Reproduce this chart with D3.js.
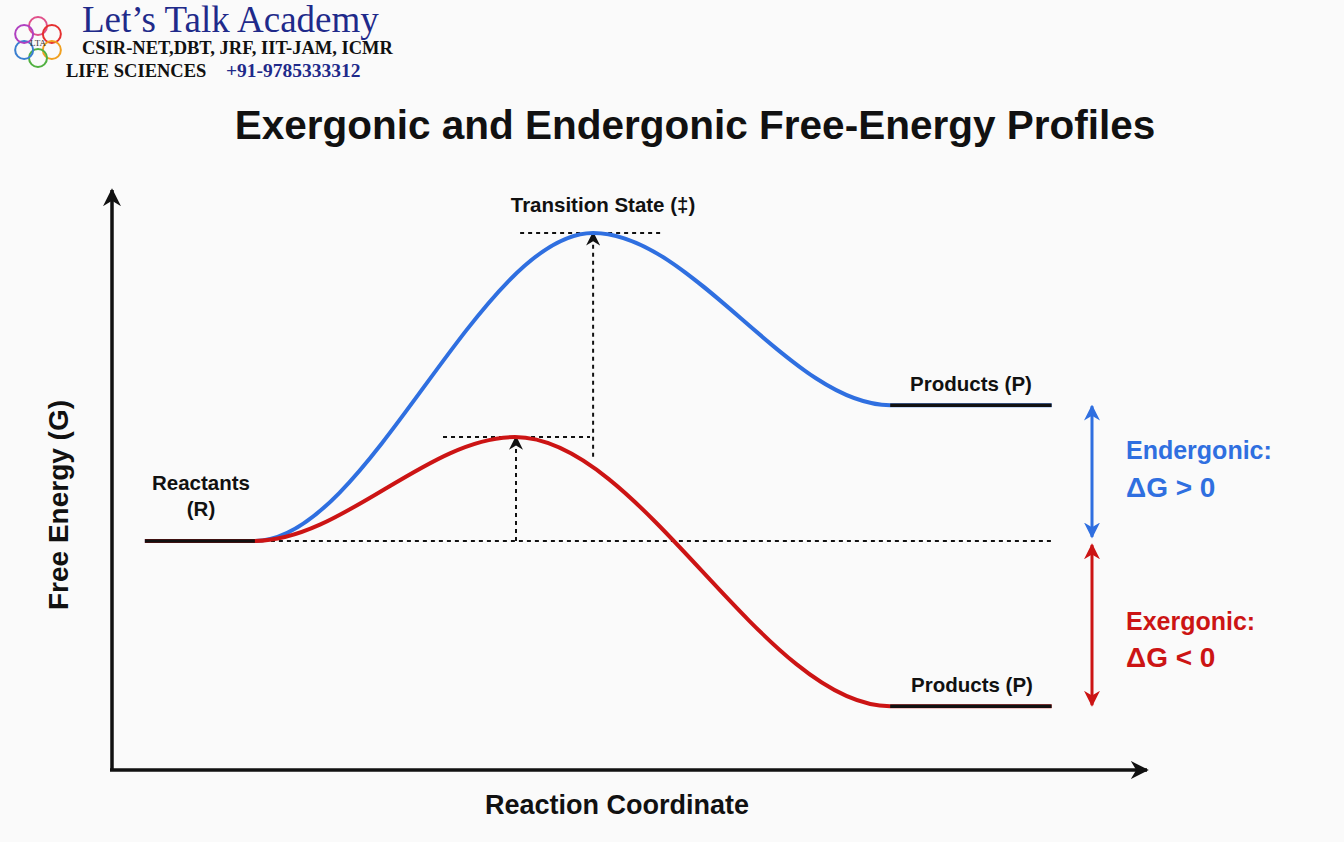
<!DOCTYPE html>
<html><head><meta charset="utf-8">
<script src="https://cdn.jsdelivr.net/npm/d3@7"></script>
<style>body{margin:0;background:#fafafa}</style>
</head><body>
<script>
var width = 1344, height = 842

// energy profile anchor points: [reaction coordinate, free energy]
var reactant = [[3.2, 39.5], [13.9, 39.5]]
var endergonic = [[3.2, 39.5], [13.9, 39.5], [46.8, 92.6], [75.7, 62.9], [91.4, 62.9]]
var exergonic = [[3.2, 39.5], [13.9, 39.5], [39.2, 57.4], [75.7, 11.0], [91.4, 11.0]]
var endProduct = [[75.7, 62.9], [91.4, 62.9]]
var exProduct = [[75.7, 11.0], [91.4, 11.0]]

var x = d3.scaleLinear().domain([0, 100]).range([112, 1140])
var y = d3.scaleLinear().domain([0, 100]).range([770, 190])

var svg = d3.select("body").append("svg").attr("width", width).attr("height", height)
var defs = svg.append("defs")
function marker(id, color, size) {
  defs.append("marker").attr("id", id).attr("viewBox", "0 0 10 10").attr("refX", 9).attr("refY", 5)
    .attr("markerWidth", size).attr("markerHeight", size).attr("orient", "auto-start-reverse").attr("markerUnits", "userSpaceOnUse")
    .append("path").attr("d", "M0,0 L10,5 L0,10 L3,5 z").attr("fill", color)
}
marker("ak", "#111", 18); marker("ab", "#2f6fe0", 16); marker("ar", "#cc1414", 16); marker("as", "#111", 14)

// logo text
var logo = svg.append("g").attr("font-family", "Liberation Serif, serif")
logo.append("text").attr("x", 82).attr("y", 32).attr("font-size", 37).attr("fill", "#1f2a8a").text("Let’s Talk Academy")
logo.append("text").attr("x", 82).attr("y", 54).attr("font-size", 18.5).attr("font-weight", "bold").attr("fill", "#111").text("CSIR-NET,DBT, JRF, IIT-JAM, ICMR")
logo.append("text").attr("x", 66).attr("y", 77).attr("font-size", 18.5).attr("font-weight", "bold").attr("fill", "#111").text("LIFE SCIENCES")
logo.append("text").attr("x", 226).attr("y", 77).attr("font-size", 19.5).attr("font-weight", "bold").attr("fill", "#1f2a8a").text("+91-9785333312")
var cols = ["#e0508a", "#e53030", "#f0a020", "#50b040", "#3a7fd0", "#b040c0"]
cols.forEach(function(c, i) {
  var a = i / cols.length * 2 * Math.PI - Math.PI / 2
  logo.append("circle").attr("cx", 38 + 16 * Math.cos(a)).attr("cy", 42 + 16 * Math.sin(a)).attr("r", 9)
    .attr("fill", "none").attr("stroke", c).attr("stroke-width", 2)
})
logo.append("text").attr("x", 38).attr("y", 46).attr("text-anchor", "middle").attr("font-size", 9).attr("fill", "#333").text("LTA")

var sans = "Liberation Sans, Arial, sans-serif"
svg.append("text").attr("x", 695).attr("y", 139).attr("text-anchor", "middle").attr("font-family", sans)
  .attr("font-size", 40.5).attr("font-weight", "bold").attr("fill", "#111").text("Exergonic and Endergonic Free-Energy Profiles")

// axes
svg.append("line").attr("x1", x(0)).attr("y1", y(0)).attr("x2", x(0)).attr("y2", 190).attr("stroke", "#111").attr("stroke-width", 3.5).attr("marker-end", "url(#ak)")
svg.append("line").attr("x1", x(0) - 2).attr("y1", y(0)).attr("x2", 1147).attr("y2", y(0)).attr("stroke", "#111").attr("stroke-width", 3.5).attr("marker-end", "url(#ak)")
svg.append("text").attr("transform", "translate(68," + 505 + ") rotate(-90)").attr("text-anchor", "middle").attr("font-family", sans)
  .attr("font-size", 28).attr("font-weight", "bold").attr("fill", "#111").text("Free Energy (G)")
svg.append("text").attr("x", 617).attr("y", 814).attr("text-anchor", "middle").attr("font-family", sans)
  .attr("font-size", 27).attr("font-weight", "bold").attr("fill", "#111").text("Reaction Coordinate")

// dotted guides
function dots(x1, y1, x2, y2, me) {
  var l = svg.append("line").attr("x1", x(x1)).attr("y1", y(y1)).attr("x2", x(x2)).attr("y2", y(y2))
    .attr("stroke", "#111").attr("stroke-width", 2).attr("stroke-dasharray", "4,4")
  if (me) l.attr("marker-end", "url(#as)")
}
dots(13.9, 39.5, 91.4, 39.5)
dots(39.7, 92.6, 53.5, 92.6)
dots(32.2, 57.4, 46.5, 57.4)
dots(46.8, 54.0, 46.8, 92.6, true)
dots(39.3, 39.5, 39.3, 57.4, true)

// curves
var line = d3.line().x(function(d) { return x(d[0]) }).y(function(d) { return y(d[1]) }).curve(d3.curveMonotoneX)
svg.append("path").attr("d", line(endergonic)).attr("fill", "none").attr("stroke", "#2f6fe0").attr("stroke-width", 4)
svg.append("path").attr("d", line(exergonic)).attr("fill", "none").attr("stroke", "#cc1414").attr("stroke-width", 4)
;[reactant, endProduct, exProduct].forEach(function(s) {
  svg.append("path").attr("d", line(s)).attr("stroke", "#111").attr("stroke-width", 3.5)
})

// labels
function label(t, xx, yy, size, color, anchor) {
  svg.append("text").attr("x", xx).attr("y", yy).attr("text-anchor", anchor || "middle").attr("font-family", sans)
    .attr("font-size", size).attr("font-weight", "bold").attr("fill", color).text(t)
}
label("Transition State (‡)", 603, 212, 20.5, "#111")
label("Reactants", 201, 490, 20.5, "#111")
label("(R)", 201, 516, 20.5, "#111")
label("Products (P)", 971, 391, 20.5, "#111")
label("Products (P)", 972, 692, 20.5, "#111")
label("Endergonic:", 1126, 459, 25, "#2f6fe0", "start")
label("ΔG > 0", 1126, 497, 28, "#2f6fe0", "start")
label("Exergonic:", 1126, 630, 25, "#cc1414", "start")
label("ΔG < 0", 1126, 667, 28, "#cc1414", "start")

// ΔG arrows
svg.append("line").attr("x1", 1092).attr("y1", y(39.5) - 4).attr("x2", 1092).attr("y2", y(62.9) + 1)
  .attr("stroke", "#2f6fe0").attr("stroke-width", 3).attr("marker-start", "url(#ab)").attr("marker-end", "url(#ab)")
svg.append("line").attr("x1", 1092).attr("y1", y(39.5) + 4).attr("x2", 1092).attr("y2", y(11.0) - 1)
  .attr("stroke", "#cc1414").attr("stroke-width", 3).attr("marker-start", "url(#ar)").attr("marker-end", "url(#ar)")
</script>
</body></html>
